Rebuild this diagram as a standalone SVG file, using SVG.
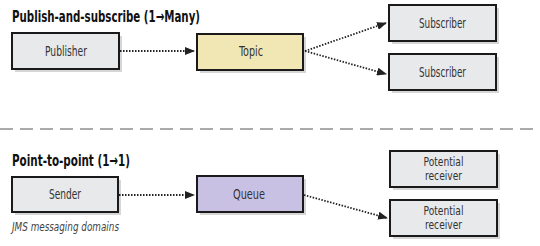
<svg xmlns="http://www.w3.org/2000/svg" width="540" height="246" viewBox="0 0 540 246">
<style>
.box{stroke:#1a1a1a;stroke-width:2}
.g{fill:#e8e9eb}
.t{font-family:"DejaVu Sans Condensed","Liberation Sans",sans-serif;font-size:14px;fill:#333;text-anchor:middle}
.r{font-size:13px}
.h{font-family:"DejaVu Sans Condensed","Liberation Sans",sans-serif;font-size:16px;font-weight:bold;fill:#111}
.c{fill:none;stroke:#222;stroke-width:1.8;stroke-dasharray:1.5 1.5;marker-end:url(#ah)}
.sh{fill:#bbb;opacity:0.6}
</style>
<defs>
<marker id="ah" markerWidth="10" markerHeight="8" refX="9" refY="4" orient="auto" markerUnits="userSpaceOnUse">
<path d="M0,0 L10,4 L0,8 Z" fill="#222"/>
</marker>
</defs>
<text class="h" x="12" y="22" textLength="188" lengthAdjust="spacingAndGlyphs">Publish-and-subscribe (1→Many)</text>
<line x1="0" y1="129" x2="540" y2="129" stroke="#aaa" stroke-width="2" stroke-dasharray="13 7"/>
<text class="h" x="12" y="166" textLength="118" lengthAdjust="spacingAndGlyphs">Point-to-point (1→1)</text>
<text x="12" y="231" font-family="'DejaVu Sans Condensed','Liberation Sans',sans-serif" font-size="12.5" font-style="italic" fill="#444" textLength="107" lengthAdjust="spacingAndGlyphs">JMS messaging domains</text>
<g id="publisher"><rect class="sh" x="15" y="36" width="107" height="36"/><rect class="box g" x="12" y="33" width="107" height="36"/><text class="t" x="66" y="56" textLength="42" lengthAdjust="spacingAndGlyphs">Publisher</text></g>
<g id="topic"><rect class="sh" x="200" y="37" width="106" height="36"/><rect class="box" fill="#f1e7b4" x="197" y="34" width="106" height="36"/><text class="t" x="251" y="56" textLength="24" lengthAdjust="spacingAndGlyphs">Topic</text></g>
<g id="subscriber1"><rect class="sh" x="392" y="8" width="107" height="36"/><rect class="box g" x="389" y="5" width="107" height="36"/><text class="t" x="442.5" y="28" textLength="47" lengthAdjust="spacingAndGlyphs">Subscriber</text></g>
<g id="subscriber2"><rect class="sh" x="392" y="57" width="107" height="36"/><rect class="box g" x="389" y="54" width="107" height="36"/><text class="t" x="442.5" y="77" textLength="47" lengthAdjust="spacingAndGlyphs">Subscriber</text></g>
<g id="sender"><rect class="sh" x="15" y="180" width="106" height="35"/><rect class="box g" x="12" y="177" width="106" height="35"/><text class="t" x="65" y="199" textLength="32" lengthAdjust="spacingAndGlyphs">Sender</text></g>
<g id="queue"><rect class="sh" x="200" y="179" width="106" height="36"/><rect class="box" fill="#c9c1e4" x="197" y="176" width="106" height="36"/><text class="t" x="249" y="199" textLength="32" lengthAdjust="spacingAndGlyphs">Queue</text></g>
<g id="receiver1"><rect class="sh" x="393" y="154" width="107" height="36"/><rect class="box g" x="390" y="151" width="107" height="36"/><text class="t r" x="443.5" y="165.5" textLength="40" lengthAdjust="spacingAndGlyphs">Potential</text><text class="t r" x="443.5" y="179.5" textLength="37" lengthAdjust="spacingAndGlyphs">receiver</text></g>
<g id="receiver2"><rect class="sh" x="393" y="203" width="107" height="36"/><rect class="box g" x="390" y="200" width="107" height="36"/><text class="t r" x="443.5" y="214.5" textLength="40" lengthAdjust="spacingAndGlyphs">Potential</text><text class="t r" x="443.5" y="228.5" textLength="37" lengthAdjust="spacingAndGlyphs">receiver</text></g>
<g id="connectors">
<line class="c" x1="120" y1="51" x2="194" y2="51"/>
<line class="c" x1="305" y1="51" x2="386" y2="23"/>
<line class="c" x1="305" y1="51" x2="386" y2="74"/>
<line class="c" x1="119" y1="195" x2="194" y2="195"/>
<line class="c" x1="304" y1="195" x2="387" y2="218"/>
</g>
</svg>
